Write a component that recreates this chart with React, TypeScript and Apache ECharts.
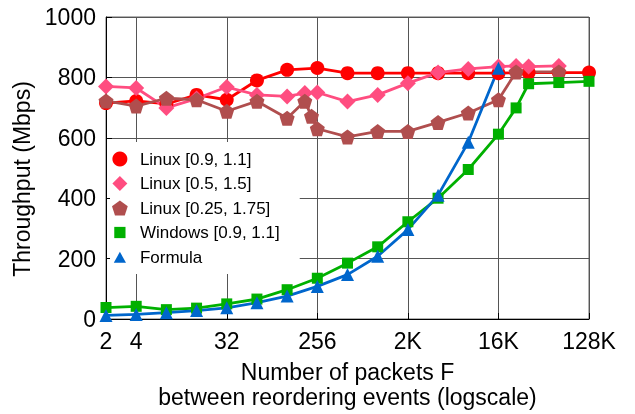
import { useEffect, useRef } from 'react';
import * as echarts from 'echarts';

// x tick values (packets F) and their labels
const xTickValues = [2, 4, 32, 256, 2048, 16384, 131072];
const xTickLabels = ['2', '4', '32', '256', '2K', '16K', '128K'];

// Linux [0.9, 1.1]
const linux09F = [2, 4, 8, 16, 32, 64, 128, 256, 512, 1024, 2048, 4096, 8192, 16384, 32768, 65536, 131072];
const linux09V = [715, 722, 712, 742, 726, 790, 825, 831, 814, 814, 814, 814, 814, 814, 816, 816, 816];

// Linux [0.5, 1.5]
const linux05F = [2, 4, 8, 16, 32, 64, 128, 192, 256, 512, 1024, 2048, 4096, 8192, 16384, 24576, 32768, 65536];
const linux05V = [770, 765, 699, 730, 768, 742, 737, 748, 750, 720, 742, 781, 816, 828, 836, 838, 836, 838];

// Linux [0.25, 1.75]
const linux025F = [2, 4, 8, 16, 32, 64, 128, 192, 224, 256, 512, 1024, 2048, 4096, 8192, 16384, 24576, 65536];
const linux025V = [722, 705, 731, 726, 688, 721, 665, 721, 671, 630, 603, 621, 621, 651, 682, 726, 818, 818];

// Windows [0.9, 1.1]
const windowsF = [2, 4, 8, 16, 32, 64, 128, 256, 512, 1024, 2048, 4096, 8192, 16384, 24576, 32768, 65536, 131072];
const windowsV = [38, 42, 31, 36, 50, 66, 97, 135, 185, 239, 322, 400, 495, 612, 699, 779, 783, 787];

// Formula
const formulaF = [2, 4, 8, 16, 32, 64, 128, 256, 512, 1024, 2048, 4096, 8192, 16384];
const formulaV = [12, 15, 21, 28, 37, 54, 76, 108, 147, 208, 296, 410, 585, 830];

const PENTAGON = 'path://M0,-1L0.951,-0.309L0.588,0.809L-0.588,0.809L-0.951,-0.309Z';
const SMALL_SQUARE = 'path://M0,0M16,16M2,2L14,2L14,14L2,14Z';
const DIAMOND_ICON = 'path://M0,-1L1,0L0,1L-1,0Z';
const TRIANGLE_ICON = 'path://M0,0M16,16M1.5,14L8,2.5L14.5,14Z';
const FONT = 'Liberation Sans, Arial, Helvetica, sans-serif';

const toPts = (fs: number[], vs: number[]) => fs.map((f, i) => [Math.log2(f), vs[i]]);

export default function App() {
  const ref = useRef<HTMLDivElement>(null);
  useEffect(() => {
    if (!ref.current) return;
    const chart = echarts.init(ref.current, undefined, { renderer: 'svg' });
    const tickPos = xTickValues.map((v) => Math.log2(v));
    const gridLine = { show: true, lineStyle: { color: '#555', width: 1 } };
    const mk = (name: string, fs: number[], vs: number[], color: string, symbol: string, size: number) => ({
      name,
      type: 'line',
      data: toPts(fs, vs),
      symbol,
      symbolSize: size,
      showAllSymbol: true,
      lineStyle: { color, width: 2.8 },
      itemStyle: { color },
      emphasis: { disabled: true },
    });
    chart.setOption({
      animation: false,
      grid: { left: 106, right: 46, top: 17, bottom: 94, show: true, borderColor: '#666', borderWidth: 1 },
      legend: {
        orient: 'vertical',
        left: 110,
        top: 142,
        backgroundColor: '#fff',
        padding: [8, 20, 8, 2],
        itemWidth: 30,
        itemHeight: 15,
        itemGap: 6.5,
        textStyle: { fontSize: 17, fontFamily: FONT, color: '#000', lineHeight: 18 },
        data: [
          { name: 'Linux [0.9, 1.1]', icon: 'circle' },
          { name: 'Linux [0.5, 1.5]', icon: DIAMOND_ICON },
          { name: 'Linux [0.25, 1.75]', icon: PENTAGON },
          { name: 'Windows [0.9, 1.1]', icon: SMALL_SQUARE },
          { name: 'Formula', icon: TRIANGLE_ICON },
        ],
      },
      xAxis: {
        type: 'value',
        min: 1,
        max: 17,
        name: 'Number of packets F\nbetween reordering events (logscale)',
        nameLocation: 'middle',
        nameGap: 40,
        nameTextStyle: { fontSize: 23, fontFamily: FONT, color: '#000', lineHeight: 25 },
        axisLine: { show: true, lineStyle: { color: '#000', width: 1 } },
        axisTick: { show: true, inside: true, length: 6, customValues: tickPos, lineStyle: { color: '#000' } },
        axisLabel: {
          customValues: tickPos,
          margin: 10,
          fontSize: 23,
          fontFamily: FONT,
          color: '#000',
          formatter: (v: number) => {
            const i = tickPos.findIndex((t) => Math.abs(t - v) < 1e-6);
            return i >= 0 ? xTickLabels[i] : '';
          },
        },
        splitLine: gridLine,
      },
      yAxis: {
        type: 'value',
        min: 0,
        max: 1000,
        interval: 200,
        name: 'Throughput (Mbps)',
        nameLocation: 'middle',
        nameGap: 61,
        nameTextStyle: { fontSize: 23, fontFamily: FONT, color: '#000', padding: [0, 22, 0, 0] },
        axisLine: { show: true, lineStyle: { color: '#000', width: 1 } },
        axisTick: { show: true, inside: true, length: 6, lineStyle: { color: '#000' } },
        axisLabel: { margin: 10, fontSize: 23, fontFamily: FONT, color: '#000', formatter: (v: number) => String(v) },
        splitLine: gridLine,
      },
      series: [
        mk('Linux [0.9, 1.1]', linux09F, linux09V, '#ff0000', 'circle', 14),
        mk('Linux [0.5, 1.5]', linux05F, linux05V, '#ff4d80', 'diamond', 16),
        mk('Linux [0.25, 1.75]', linux025F, linux025V, '#b04e4e', PENTAGON, 15),
        mk('Windows [0.9, 1.1]', windowsF, windowsV, '#00b000', 'rect', 11),
        mk('Formula', formulaF, formulaV, '#0066cc', 'triangle', 13),
      ],
    });
    return () => chart.dispose();
  }, []);
  return <div ref={ref} style={{ position: 'fixed', left: 0, top: 0, width: 635, height: 414 }} />;
}
